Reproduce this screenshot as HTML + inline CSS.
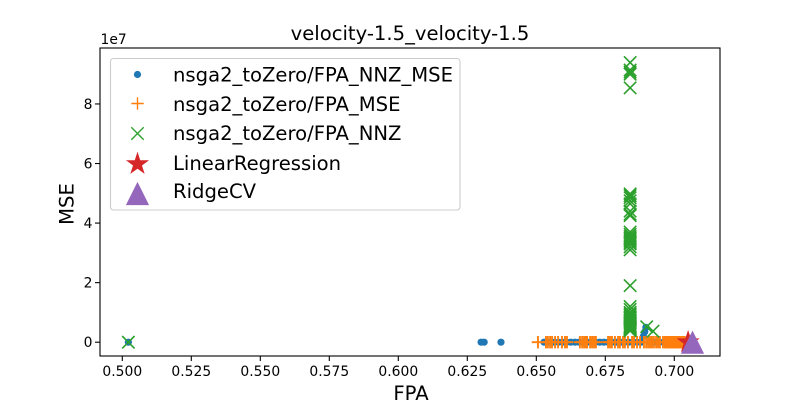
<!DOCTYPE html>
<html>
<head>
<meta charset="utf-8">
<title>velocity-1.5_velocity-1.5</title>
<style>
html,body{margin:0;padding:0;background:#fff;}
svg{display:block;}
text{font-family:"DejaVu Sans","Liberation Sans",sans-serif;fill:#000;}
</style>
</head>
<body>
<svg id="chart" width="800" height="400" viewBox="0 0 800 400" xmlns="http://www.w3.org/2000/svg">
<rect x="0" y="0" width="800" height="400" fill="#fff"/>
<text x="410" y="40" font-size="19.6" text-anchor="middle">velocity-1.5_velocity-1.5</text>
<text x="100.5" y="44" font-size="13.89">1e7</text>
<text x="411" y="400" font-size="19.6" text-anchor="middle">FPA</text>
<text transform="translate(73.3,204) rotate(-90)" font-size="19.6" text-anchor="middle">MSE</text>
<g id="ticks"></g>
<g id="marks"></g>
<rect x="100" y="48" width="620" height="308" fill="none" stroke="#000" stroke-width="1.1"/>
<g>
<rect x="110.5" y="58.5" width="349.5" height="151.5" rx="3" ry="3" fill="#fff" fill-opacity="0.8" stroke="#ccc" stroke-width="1.1"/>
<g id="legend-markers"></g>
<text x="173" y="81.5" font-size="19.6">nsga2_toZero/FPA_NNZ_MSE</text>
<text x="173" y="111" font-size="19.6">nsga2_toZero/FPA_MSE</text>
<text x="173" y="140" font-size="19.6">nsga2_toZero/FPA_NNZ</text>
<text x="173" y="170" font-size="19.6">LinearRegression</text>
<text x="173" y="198" font-size="19.6">RidgeCV</text>
</g>
</svg>
<script>
const xTickValues = [0.5, 0.525, 0.55, 0.575, 0.6, 0.625, 0.65, 0.675, 0.7];
const xTickLabels = ["0.500", "0.525", "0.550", "0.575", "0.600", "0.625", "0.650", "0.675", "0.700"];
const yTickValues = [0, 2, 4, 6, 8];
const yTickLabels = ["0", "2", "4", "6", "8"];

const blueFpa = [0.5022, 0.6300, 0.6311, 0.6372, 0.6528, 0.6535, 0.6550, 0.6565, 0.6580, 0.6595, 0.6610, 0.6625, 0.6640, 0.6655, 0.6670, 0.6685, 0.6700, 0.6715, 0.6730, 0.6745, 0.6760, 0.6775, 0.6790, 0.6805, 0.6820, 0.6835, 0.6850, 0.6865, 0.6880, 0.6888, 0.6893, 0.6897, 0.6910, 0.6925, 0.6940, 0.6960, 0.6980, 0.7000];
const blueMse = [0, 0, 0, 0, 0, 0, 0, 0, 0, 0, 0, 0, 0, 0, 0, 0, 0, 0, 0, 0, 0, 0, 0, 0, 0, 0, 0, 0, 0, 2.0, 3.5, 5.0, 0, 0, 0, 0, 0, 0];

const orangeFpa = [0.6506, 0.6535, 0.6542, 0.6550, 0.6557, 0.6568, 0.6579, 0.6593, 0.6604, 0.6611, 0.6658, 0.6666, 0.6673, 0.6680, 0.6684, 0.6695, 0.6702, 0.6709, 0.6716, 0.6760, 0.6767, 0.6774, 0.6785, 0.6796, 0.6803, 0.6814, 0.6821, 0.6832, 0.6847, 0.6854, 0.6865, 0.6876, 0.6890, 0.6898, 0.6905, 0.6912, 0.6919, 0.6926, 0.6934, 0.6941, 0.6948, 0.6959, 0.6966, 0.6970, 0.6974, 0.6978, 0.6981, 0.6985, 0.6988, 0.6992, 0.6995, 0.6999, 0.7002, 0.7006, 0.7010, 0.7014, 0.7017, 0.7021, 0.7024, 0.7028, 0.7031, 0.7035, 0.7038, 0.7042, 0.7046];
const orangeMse = [0, 0, 0, 0, 0, 0, 0, 0, 0, 0, 0, 0, 0, 0, 0, 0, 0, 0, 0, 0, 0, 0, 0, 0, 0, 0, 0, 0, 0, 0, 0, 0, 0, 0, 0, 0, 0, 0, 0, 0, 0, 0, 0, 0, 0, 0, 0, 0, 0, 0, 0, 0, 0, 0, 0, 0, 0, 0, 0, 0, 0, 0, 0];

const greenFpa = [0.5022, 0.684, 0.684, 0.684, 0.684, 0.684, 0.684, 0.684, 0.684, 0.684, 0.684, 0.684, 0.684, 0.684, 0.684, 0.684, 0.684, 0.684, 0.684, 0.684, 0.684, 0.684, 0.684, 0.684, 0.684, 0.684, 0.684, 0.684, 0.684, 0.684, 0.684, 0.684, 0.684, 0.684, 0.684, 0.684, 0.684, 0.684, 0.684, 0.684, 0.684, 0.684, 0.684, 0.684, 0.684, 0.684, 0.690, 0.6923];
const greenMse = [0, 93.9, 91.4, 90.7, 90.0, 85.4, 49.8, 49.2, 48.5, 47.5, 46.5, 44.0, 43.0, 42.5, 37.0, 36.2, 35.5, 35.0, 34.5, 34.0, 33.5, 33.0, 32.0, 31.0, 19.0, 12.0, 11.0, 10.0, 9.0, 8.0, 7.2, 6.5, 6.0, 5.5, 5.0, 4.5, 4.0, 3.8, 9.5, 8.5, 7.5, 6.8, 5.2, 4.8, 4.4, 4.2, 5.2, 3.7];

const linearFpa = [0.7050];
const linearMse = [0];
const ridgeFpa = [0.7066];
const ridgeMse = [0];

const NS = "http://www.w3.org/2000/svg";
function xScale(v) { return 122.3 + (v - 0.5) * 2760; }
function yScale(v) { return 342.2 - v * 2.978; }

function makeEl(tag, attrs) {
  const el = document.createElementNS(NS, tag);
  Object.keys(attrs).forEach(function (k) { el.setAttribute(k, attrs[k]); });
  return el;
}

function drawDot(parent, cx, cy) {
  const el = makeEl("circle", { cx: cx, cy: cy, r: 3.6, fill: "#1f77b4" });
  
  
  parent.appendChild(el);
}
function drawPlus(parent, cx, cy, sw) {
  const h = 6.2;
  const d = "M" + (cx - h) + " " + cy + "H" + (cx + h) + "M" + cx + " " + (cy - h) + "V" + (cy + h);
  const el = makeEl("path", { d: d, stroke: "#ff7f0e", "stroke-width": sw, fill: "none" });
  
  
  parent.appendChild(el);
}
function drawCross(parent, cx, cy, sw) {
  const h = 6.2;
  const d = "M" + (cx - h) + " " + (cy - h) + "L" + (cx + h) + " " + (cy + h) + "M" + (cx - h) + " " + (cy + h) + "L" + (cx + h) + " " + (cy - h);
  const el = makeEl("path", { d: d, stroke: "#2ca02c", "stroke-width": sw, fill: "none" });
  
  
  parent.appendChild(el);
}
function drawStar(parent, cx, cy) {
  const outer = 12.2, inner = 4.7;
  const pts = [];
  for (let i = 0; i < 10; i++) {
    const r = i % 2 === 0 ? outer : inner;
    const a = -Math.PI / 2 + i * Math.PI / 5;
    pts.push((cx + r * Math.cos(a)).toFixed(2) + "," + (cy + r * Math.sin(a)).toFixed(2));
  }
  const el = makeEl("polygon", { points: pts.join(" "), fill: "#d62728" });
  
  
  parent.appendChild(el);
}
function drawTriangle(parent, cx, cy) {
  const h = 11.6;
  const pts = cx + "," + (cy - h) + " " + (cx + h) + "," + (cy + h) + " " + (cx - h) + "," + (cy + h);
  const el = makeEl("polygon", { points: pts, fill: "#9467bd" });
  
  
  parent.appendChild(el);
}

const ticksGroup = document.getElementById("ticks");
xTickValues.forEach(function (v, i) {
  const px = xScale(v);
  const line = makeEl("line", { x1: px, x2: px, y1: 356, y2: 361, stroke: "#000", "stroke-width": 1.1 });
  
  
  ticksGroup.appendChild(line);
  const label = makeEl("text", { x: px, y: 376, "font-size": 13.89, "text-anchor": "middle" });
  
  
  label.textContent = xTickLabels[i];
  ticksGroup.appendChild(label);
});
yTickValues.forEach(function (v, i) {
  const py = yScale(v * 10);
  const line = makeEl("line", { x1: 95, x2: 100, y1: py, y2: py, stroke: "#000", "stroke-width": 1.1 });
  
  
  ticksGroup.appendChild(line);
  const label = makeEl("text", { x: 92.5, y: py + 5, "font-size": 13.89, "text-anchor": "end" });
  
  
  label.textContent = yTickLabels[i];
  ticksGroup.appendChild(label);
});

const marks = document.getElementById("marks");
blueFpa.forEach(function (v, i) { drawDot(marks, xScale(v), yScale(blueMse[i])); });
orangeFpa.forEach(function (v, i) { drawPlus(marks, xScale(v), yScale(orangeMse[i]), 1.9); });
greenFpa.forEach(function (v, i) { drawCross(marks, xScale(v), yScale(greenMse[i]), 1.6); });
linearFpa.forEach(function (v, i) { drawStar(marks, xScale(v), yScale(linearMse[i])); });
ridgeFpa.forEach(function (v, i) { drawTriangle(marks, xScale(v), yScale(ridgeMse[i])); });

const lm = document.getElementById("legend-markers");
drawDot(lm, 137.5, 74.5);
drawPlus(lm, 137.5, 103.5, 1.4);
drawCross(lm, 137.5, 133.5, 1.4);
drawStar(lm, 137.5, 164);
drawTriangle(lm, 137.5, 193.5);
</script>
</body>
</html>
